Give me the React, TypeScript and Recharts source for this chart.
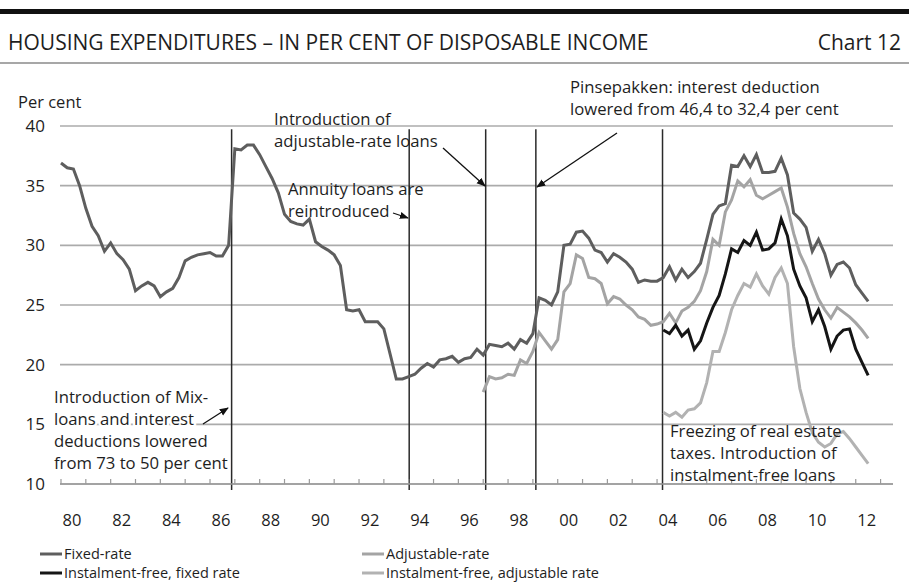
import { LineChart, Line, XAxis, YAxis, CartesianGrid, ReferenceLine } from 'recharts'

// quarterly observations, first quarter = 1980 Q1
const firstYear = 1980

const fixedRate = [
  36.9, 36.5, 36.4, 35.0, 33.1, 31.6, 30.8, 29.5, 30.2, 29.3,
  28.8, 28.0, 26.2, 26.6, 26.9, 26.6, 25.7, 26.1, 26.4, 27.3,
  28.7, 29.0, 29.2, 29.3, 29.4, 29.1, 29.1, 30.0, 38.1, 38.0,
  38.4, 38.4, 37.6, 36.6, 35.6, 34.4, 32.6, 32.0, 31.8, 31.7,
  32.2, 30.3, 29.9, 29.6, 29.2, 28.3, 24.6, 24.5, 24.6, 23.6,
  23.6, 23.6, 23.0, 20.9, 18.8, 18.8, 19.0, 19.2, 19.7, 20.1,
  19.8, 20.4, 20.5, 20.7, 20.2, 20.5, 20.6, 21.3, 20.8, 21.7,
  21.6, 21.5, 21.8, 21.3, 22.1, 21.8, 22.6, 25.6, 25.4, 25.0,
  26.1, 30.0, 30.1, 31.1, 31.2, 30.6, 29.6, 29.4, 28.6, 29.3,
  29.0, 28.6, 28.0, 26.9, 27.1, 27.0, 27.0, 27.3, 28.2, 27.1,
  28.0, 27.3, 27.8, 28.5, 30.5, 32.6, 33.3, 33.5, 36.7, 36.6,
  37.5, 36.6, 37.6, 36.1, 36.1, 36.2, 37.3, 35.9, 32.7, 32.2,
  31.5, 29.5, 30.5, 29.3, 27.5, 28.4, 28.6, 28.1, 26.7, 26.0,
  25.3,
]

// adjustable-rate series begins in quarter 68 (1997 Q1)
const adjustableStart = 68
const adjustableRate = [
  17.7, 19.0, 18.8, 18.9, 19.2, 19.1, 20.4, 20.1, 21.1, 22.7,
  22.0, 21.3, 22.1, 26.1, 26.8, 29.2, 28.9, 27.3, 27.2, 26.8,
  25.1, 25.7, 25.5, 25.0, 24.6, 24.0, 23.8, 23.3, 23.4, 23.6,
  24.3, 23.5, 24.5, 24.8, 25.3, 26.2, 27.8, 30.5, 30.0, 32.8,
  33.8, 35.4, 34.9, 35.5, 34.2, 33.9, 34.2, 34.5, 34.8, 33.2,
  31.0, 29.3, 28.2, 26.8, 25.5, 24.6, 23.9, 24.8, 24.4, 24.0,
  23.5, 22.9, 22.2,
]

// instalment-free series begin in quarter 97 (2004 Q2)
const instalmentFreeStart = 97
const instalmentFreeFixed = [
  22.9, 22.6, 23.3, 22.4, 22.9, 21.3, 22.0, 23.5, 24.8, 25.8,
  27.6, 29.7, 29.4, 30.4, 30.0, 31.1, 29.6, 29.7, 30.2, 32.2,
  30.8, 28.0, 26.6, 25.6, 23.6, 24.6, 23.2, 21.3, 22.4, 22.9,
  23.0, 21.3, 20.2, 19.1,
]
const instalmentFreeAdjustable = [
  16.0, 15.7, 16.0, 15.6, 16.2, 16.3, 16.8, 18.5, 21.1, 21.1,
  22.7, 24.6, 25.8, 26.8, 26.5, 27.6, 26.6, 25.9, 27.3, 28.1,
  26.8, 21.5, 18.0, 16.0, 14.3, 13.5, 13.1, 13.4, 14.2, 14.4,
  13.8, 13.1, 12.4, 11.7,
]

const yearTicks = [
  1980, 1981, 1982, 1983, 1984, 1985, 1986, 1987, 1988, 1989, 1990, 1991,
  1992, 1993, 1994, 1995, 1996, 1997, 1998, 1999, 2000, 2001, 2002, 2003,
  2004, 2005, 2006, 2007, 2008, 2009, 2010, 2011, 2012, 2013,
]
const yTicks = [10, 15, 20, 25, 30, 35, 40]
// policy events marked with vertical lines
const eventDates = [1986.87, 1994.02, 1997.1, 1999.12, 2004.22]

const FONT = '"Open Sans", "Noto Sans", sans-serif'
const TEXT = '#1e1e1e'

const series = [
  { key: 'ifAdjustable', name: 'Instalment-free, adjustable rate', color: '#b2b2b2' },
  { key: 'adjustable', name: 'Adjustable-rate', color: '#a4a4a4' },
  { key: 'fixed', name: 'Fixed-rate', color: '#5e5e5e' },
  { key: 'ifFixed', name: 'Instalment-free, fixed rate', color: '#151515' },
]

const data = fixedRate.map((v, i) => ({
  t: firstYear + i / 4,
  fixed: v,
  adjustable: i >= adjustableStart ? adjustableRate[i - adjustableStart] : null,
  ifFixed: i >= instalmentFreeStart ? instalmentFreeFixed[i - instalmentFreeStart] : null,
  ifAdjustable: i >= instalmentFreeStart ? instalmentFreeAdjustable[i - instalmentFreeStart] : null,
}))

const YearTick = (props: any) => {
  const { x, y, payload } = props
  const yr = payload.value as number
  return (
    <g>
      <line x1={x} x2={x} y1={y} y2={y - 5} stroke="#9a9a9a" strokeWidth={1.2} />
      {yr % 2 === 0 && yr < 2013 && (
        <text x={x + 11} y={y + 42} textAnchor="middle" fontSize={16.5} fontFamily={FONT} fill={TEXT}>
          {String(yr % 100).padStart(2, '0')}
        </text>
      )}
    </g>
  )
}

const Annotation = ({ x, y, lines, halo }: { x: number; y: number; lines: string[]; halo?: boolean }) => (
  <text x={x} y={y} fontSize={16.7} fontFamily={FONT} fill={TEXT}
    stroke={halo ? '#fff' : 'none'} strokeWidth={halo ? 5 : 0} paintOrder="stroke">
    {lines.map((l, k) => (
      <tspan key={k} x={x} dy={k === 0 ? 0 : 22}>{l}</tspan>
    ))}
  </text>
)

const Arrow = ({ x1, y1, x2, y2 }: { x1: number; y1: number; x2: number; y2: number }) => (
  <line x1={x1} y1={y1} x2={x2} y2={y2} stroke="#111" strokeWidth={1.3} markerEnd="url(#arrowHead)" />
)

const legendRows = [
  [series[2], series[1]],
  [series[3], series[0]],
]

export default function App() {
  return (
    <div style={{ position: 'absolute', left: 0, top: 0, width: 909, height: 582, background: '#fff' }}>
      <LineChart width={909} height={582} data={data} margin={{ top: 126, right: 16, bottom: 58, left: 20 }}>
        <CartesianGrid vertical={false} stroke="#ababab" strokeWidth={1.6} />
        <XAxis
          dataKey="t"
          type="number"
          domain={[1979.96, 2013.5]}
          ticks={yearTicks}
          interval={0}
          tick={<YearTick />}
          tickLine={false}
          tickSize={0}
          tickMargin={0}
          height={40}
          axisLine={{ stroke: '#9a9a9a', strokeWidth: 1.6 }}
        />
        <YAxis
          type="number"
          domain={[10, 40]}
          ticks={yTicks}
          width={40}
          axisLine={false}
          tickLine={false}
          tickSize={0}
          tickMargin={15}
          tick={{ fontSize: 17, fontFamily: FONT, fill: TEXT }}
        />
        {eventDates.map((d) => (
          <ReferenceLine
            key={d}
            segment={[{ x: d, y: 39.72 }, { x: d, y: 9.5 }]}
            stroke="#2a2a2a"
            strokeWidth={1.5}
            ifOverflow="visible"
          />
        ))}
        {series.map((s) => (
          <Line
            key={s.key}
            type="linear"
            dataKey={s.key}
            name={s.name}
            stroke={s.color}
            strokeWidth={3}
            dot={false}
            isAnimationActive={false}
            connectNulls={false}
          />
        ))}
      </LineChart>
      <svg width={909} height={582} style={{ position: 'absolute', left: 0, top: 0, pointerEvents: 'none' }}>
        <defs>
          <marker id="arrowHead" viewBox="0 0 10 10" refX="9" refY="5" markerWidth="7" markerHeight="7" orient="auto-start-reverse">
            <path d="M0,1 L10,5 L0,9 z" fill="#111" />
          </marker>
        </defs>
        <rect x={0} y={9} width={909} height={5} fill="#111" />
        <text x={8} y={50} fontSize={21} fontFamily={FONT} fill={TEXT}>
          HOUSING EXPENDITURES – IN PER CENT OF DISPOSABLE INCOME
        </text>
        <text x={901} y={50} fontSize={21} fontFamily={FONT} fill={TEXT} textAnchor="end">Chart 12</text>
        <line x1={0} x2={909} y1={63} y2={63} stroke="#8a8a8a" strokeWidth={1.5} />
        <text x={18} y={108} fontSize={16.5} fontFamily={FONT} fill={TEXT}>Per cent</text>

        <Annotation x={274} y={125} lines={['Introduction of', 'adjustable-rate loans']} />
        <Arrow x1={443} y1={148} x2={485} y2={186} />
        <Annotation x={288} y={195} lines={['Annuity loans are', 'reintroduced']} />
        <Arrow x1={393} y1={213} x2={408} y2={218} />
        <Annotation x={570} y={93} lines={['Pinsepakken: interest deduction', 'lowered from 46,4 to 32,4 per cent']} />
        <Arrow x1={617} y1={133} x2={537} y2={187} />
        <Annotation x={54} y={403} halo lines={['Introduction of Mix-', 'loans and interest', 'deductions lowered', 'from 73 to 50 per cent']} />
        <Arrow x1={203} y1={424} x2={228} y2={408} />
        <Annotation x={670} y={437} lines={['Freezing of real estate', 'taxes. Introduction of', 'instalment-free loans']} />

        {legendRows.map((row, r) =>
          row.map((s, c) => {
            const lx = c === 0 ? 40 : 362
            const ly = 554 + r * 19
            return (
              <g key={s.key}>
                <line x1={lx} x2={lx + 22} y1={ly} y2={ly} stroke={s.color} strokeWidth={3} />
                <text x={lx + 24} y={ly + 5} fontSize={14.5} fontFamily={FONT} fill={TEXT}>{s.name}</text>
              </g>
            )
          })
        )}
      </svg>
    </div>
  )
}
